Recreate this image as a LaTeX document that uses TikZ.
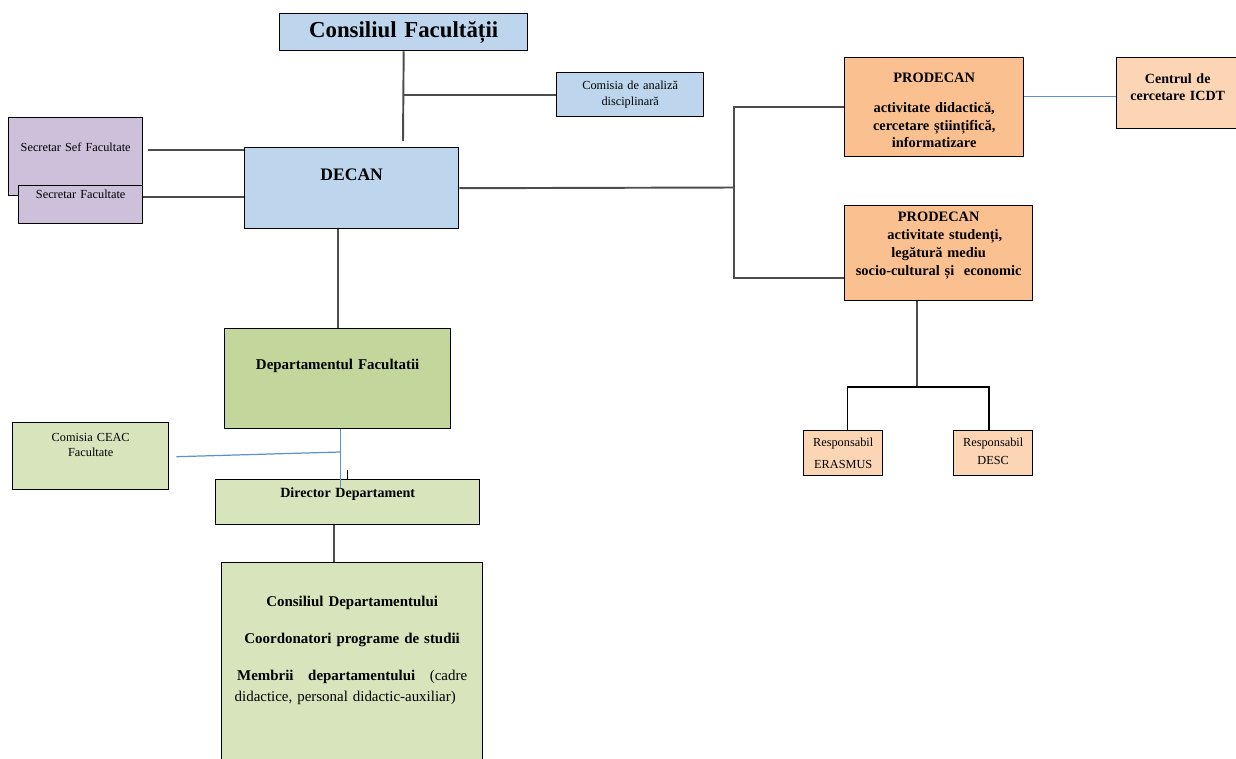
\documentclass[tikz,border=0pt]{standalone}
\usepackage{fontspec}
\setmainfont{Liberation Serif}
\usetikzlibrary{positioning, calc}
\definecolor{albastru}{RGB}{189,214,238}
\definecolor{lila}{RGB}{204,192,218}
\definecolor{portocaliu}{RGB}{250,192,144}
\definecolor{piersica}{RGB}{252,213,181}
\definecolor{verde}{RGB}{195,214,155}
\definecolor{verdedeschis}{RGB}{216,228,188}
\definecolor{linieb}{RGB}{91,146,210}

\begin{document}
\begin{tikzpicture}[x=0.02cm, y=-0.02cm,
    cutie/.style={draw=black, line width=0.8pt, inner sep=0pt, align=center, anchor=north west},
    legatura/.style={draw=black!70, line width=1.1pt},
    legaturab/.style={draw=linieb, line width=0.7pt}]
      \useasboundingbox (0,0) rectangle (1236,758);

      \node[cutie, fill=albastru, text width=4.96cm, text height=0.48cm, text depth=0.26cm, font=\fontsize{13}{15}\selectfont\bfseries] (CF) at (279,13) {Consiliul Facultății};
      \node[cutie, fill=albastru, text width=2.94cm, text height=0.34cm, text depth=0.54cm, font=\fontsize{7}{9}\selectfont] (CAD) at (556,72) {Comisia de analiză\\disciplinară};

      \node[cutie, fill=lila, text width=2.68cm, text height=0.68cm, text depth=0.88cm, font=\fontsize{7}{9}\selectfont] (SSF) at (8,117) {Secretar Sef Facultate};
      \node[cutie, fill=lila, text width=2.48cm, text height=0.26cm, text depth=0.5cm, font=\fontsize{7}{9}\selectfont] (SF) at (18,185) {Secretar Facultate};
      \node[cutie, fill=albastru, text width=4.28cm, text height=0.66cm, text depth=0.96cm, font=\fontsize{10}{12}\selectfont\bfseries] (DEC) at (244,147) {DECAN};

      \node[cutie, fill=portocaliu, text width=3.58cm, text height=0.5cm, text depth=1.48cm, font=\fontsize{8.2}{10}\selectfont\bfseries] (PD1) at (844,57) {PRODECAN\\[7pt]activitate didactică,\\cercetare științifică,\\informatizare};
      \node[cutie, fill=piersica, text width=2.44cm, text height=0.52cm, text depth=0.9cm, font=\fontsize{8}{9.7}\selectfont\bfseries] (CC) at (1116,57) {Centrul de\\cercetare ICDT};
      \node[cutie, fill=portocaliu, text width=3.76cm, text height=0.32cm, text depth=1.58cm, font=\fontsize{8.2}{10.3}\selectfont\bfseries] (PD2) at (844,205) {PRODECAN\\\hspace*{7pt}activitate studenți,\\legătură mediu\hspace*{4pt}\\socio-cultural și~~economic};

      \node[cutie, fill=verde, text width=4.52cm, text height=0.82cm, text depth=1.18cm, font=\fontsize{8.5}{10}\selectfont\bfseries] (DF) at (224,328) {Departamentul Facultatii};
      \node[cutie, fill=verdedeschis, text width=3.12cm, text height=0.38cm, text depth=0.96cm, font=\fontsize{7}{8.5}\selectfont] (CEAC) at (12,422) {Comisia CEAC\\Facultate};
      \node[cutie, fill=verdedeschis, text width=5.28cm, text height=0.36cm, text depth=0.54cm, font=\fontsize{8}{10}\selectfont\bfseries] (DD) at (215,479) {Director Departament};
      \node[cutie, fill=verdedeschis, text width=5.22cm, text height=0.88cm, text depth=3.32cm, font=\fontsize{8.5}{12}\selectfont] (CD) at (221,562) {\textbf{Consiliul Departamentului}\\[9pt]\textbf{Coordonatori programe de studii}\\[9pt]\makebox[4.6cm][l]{\textbf{Membrii}\hfill\textbf{departamentului}\hfill(cadre}\\\makebox[4.7cm][l]{didactice, personal didactic-auxiliar)}};

      \node[cutie, fill=piersica, text width=1.58cm, text height=0.32cm, text depth=0.58cm, font=\fontsize{7}{8.5}\selectfont] (RE) at (803,430) {Responsabil\\[4pt]ERASMUS};
      \node[cutie, fill=piersica, text width=1.58cm, text height=0.32cm, text depth=0.58cm, font=\fontsize{7}{8.5}\selectfont] (RD) at (953,430) {Responsabil\\[1.5pt]DESC};

      \coordinate (j1) at (403,141);
      \coordinate (j2) at (734,187.5);
      \coordinate (j3) at (734,278);
      \coordinate (d2) at (340,452);
      \coordinate (r0) at (917,387);

      \draw[legatura] (node cs:name=CF, anchor=south) -- (j1);
      \draw[legatura] (node cs:name=CAD, anchor=west) -- (CAD.west -| j1);
      \draw[legatura] (SSF.east) ++(5,-7) coordinate (s1) -- (s1 -| DEC.west);
      \draw[legatura] (SF.east) ++(0,-8) coordinate (s2) -- (s2 -| DEC.west);
      \draw[legatura] (node cs:name=DEC, anchor=east) -- (j2);
      \draw[legatura] (node cs:name=PD1, anchor=west) -| (j3) -- (j3 -| PD2.west);
      \draw[legaturab] (CC.west) ++(0,3.5) coordinate (c1) -- (c1 -| PD1.east);
      \draw[legatura] (DEC.south -| DF.north) -- (node cs:name=DF, anchor=north);
      \draw[legaturab] (DF.south) ++(3,0) coordinate (d1) -- ++(0,59);
      \draw[legaturab] (CEAC.east) ++(7,0.5) -- (d2);
      \draw[draw=black, line width=0.7pt] (node cs:name=DD, anchor=north) -- ++(0,-9);
      \draw[legatura] (DD.south) ++(-14,0) coordinate (d3) -- (d3 |- CD.north);
      \draw[legatura] (r0 |- PD2.south) -- (r0);
      \draw[legatura, draw=black, line width=0.8pt] ([xshift=2.3pt]RE.north) |- (r0) -| ([xshift=-2.3pt]RD.north);
    \end{tikzpicture}
\end{document}
